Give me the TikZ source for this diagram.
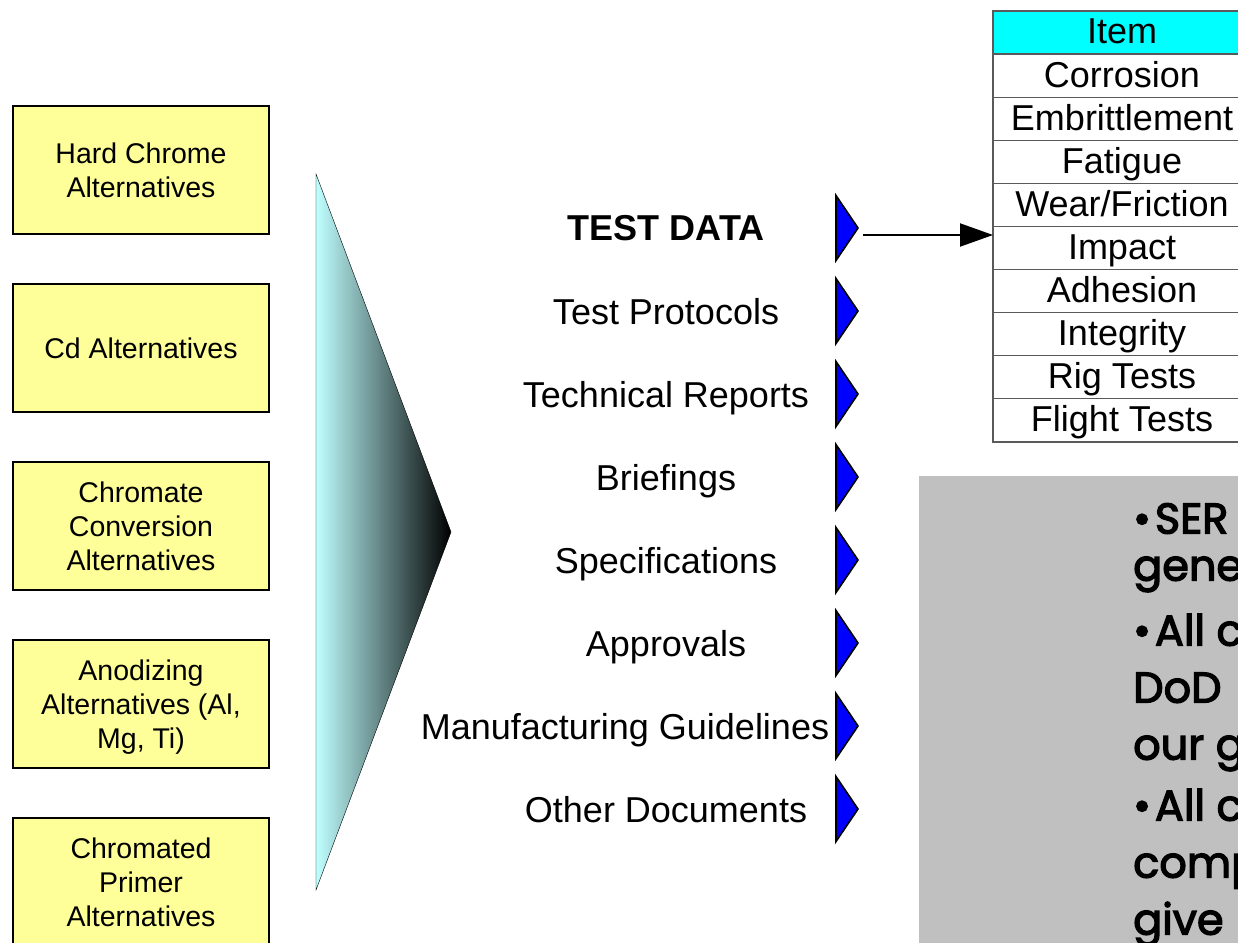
\documentclass[tikz,border=0pt]{standalone}
\usepackage{fontspec}
\setmainfont{Liberation Sans}
\newfontfamily\gothic[FakeBold=3]{Poppins}
\usetikzlibrary{positioning,arrows.meta}

\definecolor{boxyellow}{RGB}{255,255,153}
\definecolor{tricyan}{RGB}{192,255,255}
\definecolor{itemcyan}{RGB}{0,255,255}
\definecolor{notegray}{RGB}{192,192,192}
\definecolor{gridgray}{RGB}{90,90,90}
\definecolor{flagblue}{RGB}{0,0,255}

\tikzstyle{alternative}=[draw=black,line width=2pt,fill=boxyellow,minimum width=256pt,minimum height=128pt,align=center,text depth=0pt,font=\fontsize{28.5}{34}\selectfont]
\tikzstyle{product}=[anchor=base,inner sep=0pt,font=\fontsize{36}{43}\selectfont]
\tikzstyle{flag}=[draw=black,line width=1.6pt,fill=flagblue,line join=miter]
\tikzstyle{itemrow}=[draw=gridgray,line width=1.2pt,outer sep=0pt,inner sep=0pt,minimum width=258pt,minimum height=43.1pt,text height=23pt,text depth=0pt,font=\fontsize{36}{43}\selectfont]
\tikzstyle{itemhead}=[itemrow,fill=itemcyan]
\tikzstyle{link}=[line width=2pt,-{Triangle[length=33pt,width=23pt]}]
\tikzstyle{note}=[anchor=north west,inner sep=0pt,align=left,font=\gothic\fontsize{43}{57}\selectfont]

\newcommand\dotitem{•\kern4pt}

\begin{document}
\begin{tikzpicture}[x=1pt,y=-1pt]
  \useasboundingbox (0,0) rectangle (1238,942);
  \clip (0,0) rectangle (1238,942);

  % coating alternatives
  \node[alternative] (chrome) at (141,170) {Hard Chrome\\Alternatives};
  \node[alternative,below=48pt of chrome] (cadmium) {Cd Alternatives};
  \node[alternative,below=48pt of cadmium] (conversion) {Chromate\\Conversion\\Alternatives};
  \node[alternative,below=48pt of conversion] (anodize) {Anodizing\\Alternatives (Al,\\Mg, Ti)};
  \node[alternative,below=48pt of anodize] (primer) {Chromated\\Primer\\Alternatives};

  % funnel
  \shadedraw[left color=tricyan,right color=black,draw=black,thin] (316,174) -- (451,532) -- (316,890) -- cycle;

  % products
  \node[product,font=\fontsize{36}{43}\bfseries\selectfont] (product0) at (666,240) {TEST DATA};
  \foreach \txt/\x [count=\i] in {Test Protocols/666,Technical Reports/666,Briefings/666,
      Specifications/666,Approvals/666,Manufacturing Guidelines/625,Other Documents/666}
    \node[product] (product\i) at (\x,{241+83*\i}) {\txt};

  \foreach \y [count=\i] in {228,311,394,477,560,643,726,809} {
    \coordinate (flag\i) at (836,\y);
    \coordinate (tip\i) at (858,\y);
    \draw[flag] (flag\i) ++(0,-32.5) -- (tip\i) -- ++(-22,32.5) -- cycle;
  }

  % test items
  \node[itemhead] (row0) at (1122,32.5) {Item};
  \foreach \txt [count=\i, remember=\i as \j (initially 0)] in {Corrosion,Embrittlement,
      Fatigue,Wear/Friction,Impact,Adhesion,Integrity,Rig Tests,Flight Tests}
    \node[itemrow,below=0pt of row\j] (row\i) {\txt};

  \coordinate (tail) at ([shift={(5,7)}]tip1);
  \draw[link] (tail) -- (tail -| row5.west);

  % remarks
  \fill[notegray] (919,476) rectangle (1260,960);
  \node[note] (remark) at (1133,503) {\dotitem SER\\[-10pt]gene\\[8pt]\dotitem All c\\DoD\\our g\\[4pt]\dotitem All c\\comp\\give};
\end{tikzpicture}
\end{document}
